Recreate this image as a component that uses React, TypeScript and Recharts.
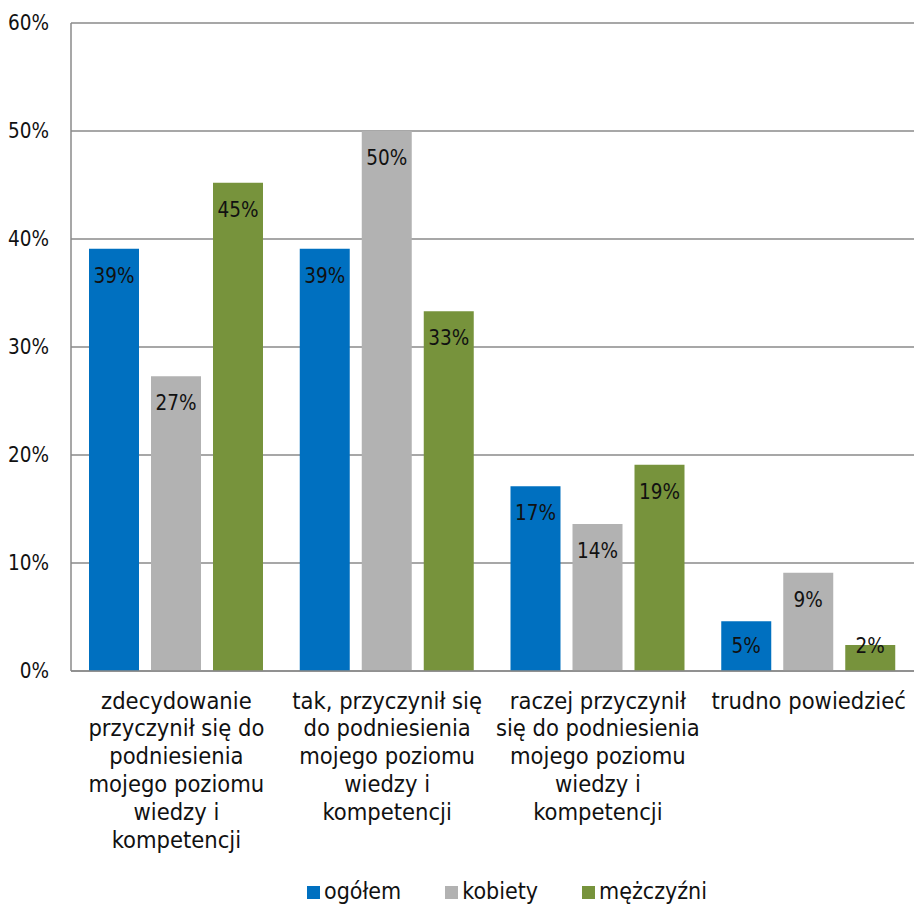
import React from "react";
import { BarChart, Bar, XAxis, YAxis, CartesianGrid, Legend, LabelList } from "recharts";

// Answer categories (full text) and how each one is broken into lines under the axis
const categories: string[] = [
  "zdecydowanie przyczynił się do podniesienia mojego poziomu wiedzy i kompetencji",
  "tak, przyczynił się do podniesienia mojego poziomu wiedzy i kompetencji",
  "raczej przyczynił się do podniesienia mojego poziomu wiedzy i kompetencji",
  "trudno powiedzieć",
];
const categoryLines: string[][] = [
  ["zdecydowanie", "przyczynił się do", "podniesienia", "mojego poziomu", "wiedzy i", "kompetencji"],
  ["tak, przyczynił się", "do podniesienia", "mojego poziomu", "wiedzy i", "kompetencji"],
  ["raczej przyczynił", "się do podniesienia", "mojego poziomu", "wiedzy i", "kompetencji"],
  ["trudno powiedzieć"],
];

// Shares in percent
const ogolem: number[] = [39.1, 39.1, 17.1, 4.6];
const kobiety: number[] = [27.3, 50.0, 13.6, 9.1];
const mezczyzni: number[] = [45.2, 33.3, 19.1, 2.4];

const yTicks: number[] = [0, 10, 20, 30, 40, 50, 60];

const seriesNames = { ogolem: "ogółem", kobiety: "kobiety", mezczyzni: "mężczyźni" };
const colors = { ogolem: "#0070C0", kobiety: "#B2B2B2", mezczyzni: "#77933C" };

const data = categories.map((name, i) => ({
  name,
  ogolem: ogolem[i],
  kobiety: kobiety[i],
  mezczyzni: mezczyzni[i],
}));

const FONT = "'DejaVu Sans Condensed', 'DejaVu Sans', sans-serif";
const GRID = "#8a8a8a";
const NUM_SIZE = 20.5;

const ValueLabel = (props: any) => {
  const { x, y, width, height, value } = props;
  const cy = Math.min(y + 27, y + height - 25);
  return (
    <text
      x={x + width / 2}
      y={cy}
      textAnchor="middle"
      dominantBaseline="central"
      fontFamily={FONT}
      fontSize={NUM_SIZE}
      fill="#111"
    >
      {`${Math.round(value)}%`}
    </text>
  );
};

const CategoryTick = (props: any) => {
  const { x, y, payload } = props;
  const lines = categoryLines[payload.index] || [String(payload.value)];
  return (
    <text x={x} y={y + 37.5} textAnchor="middle" fontFamily={FONT} fontSize={23.5} fill="#111">
      {lines.map((l, i) => (
        <tspan key={i} x={x} dy={i === 0 ? 0 : 27.8}>
          {l}
        </tspan>
      ))}
    </text>
  );
};

const LegendContent = () => {
  const items = [
    { key: "ogolem", label: seriesNames.ogolem, color: colors.ogolem },
    { key: "kobiety", label: seriesNames.kobiety, color: colors.kobiety },
    { key: "mezczyzni", label: seriesNames.mezczyzni, color: colors.mezczyzni },
  ];
  return (
    <div
      style={{
        height: 40,
        boxSizing: "border-box",
        paddingTop: 14,
        paddingLeft: 307,
        display: "flex",
        alignItems: "center",
        gap: 44,
        fontFamily: FONT,
        fontSize: 23,
        lineHeight: "26px",
        color: "#111",
      }}
    >
      {items.map((it) => (
        <div key={it.key} style={{ display: "flex", alignItems: "center", gap: 4 }}>
          <span style={{ display: "inline-block", width: 13, height: 13, background: it.color, marginTop: 2 }} />
          <span>{it.label}</span>
        </div>
      ))}
    </div>
  );
};

export default function App() {
  return (
    <div style={{ position: "absolute", left: 0, top: 0, width: 914, height: 904, background: "#fff" }}>
      <BarChart
        width={914}
        height={904}
        data={data}
        margin={{ top: 23, right: 0, bottom: 0, left: 0 }}
        barSize={50}
        barGap={12}
      >
        <CartesianGrid vertical={false} stroke={GRID} strokeWidth={1.5} />
        <XAxis
          dataKey="name"
          height={193}
          interval={0}
          tickLine={false}
          tickSize={0}
          tickMargin={0}
          axisLine={{ stroke: GRID, strokeWidth: 1.5 }}
          tick={<CategoryTick />}
        />
        <YAxis
          width={71}
          domain={[0, 60]}
          ticks={yTicks}
          interval={0}
          tickLine={false}
          tickSize={0}
          tickMargin={22}
          axisLine={{ stroke: GRID, strokeWidth: 1.5 }}
          tickFormatter={(v: number) => `${v}%`}
          tick={{ fontFamily: FONT, fontSize: NUM_SIZE, fill: "#111" }}
        />
        <Legend verticalAlign="bottom" content={<LegendContent />} />
        <Bar dataKey="ogolem" name={seriesNames.ogolem} fill={colors.ogolem} isAnimationActive={false}>
          <LabelList dataKey="ogolem" content={<ValueLabel />} />
        </Bar>
        <Bar dataKey="kobiety" name={seriesNames.kobiety} fill={colors.kobiety} isAnimationActive={false}>
          <LabelList dataKey="kobiety" content={<ValueLabel />} />
        </Bar>
        <Bar dataKey="mezczyzni" name={seriesNames.mezczyzni} fill={colors.mezczyzni} isAnimationActive={false}>
          <LabelList dataKey="mezczyzni" content={<ValueLabel />} />
        </Bar>
      </BarChart>
    </div>
  );
}
